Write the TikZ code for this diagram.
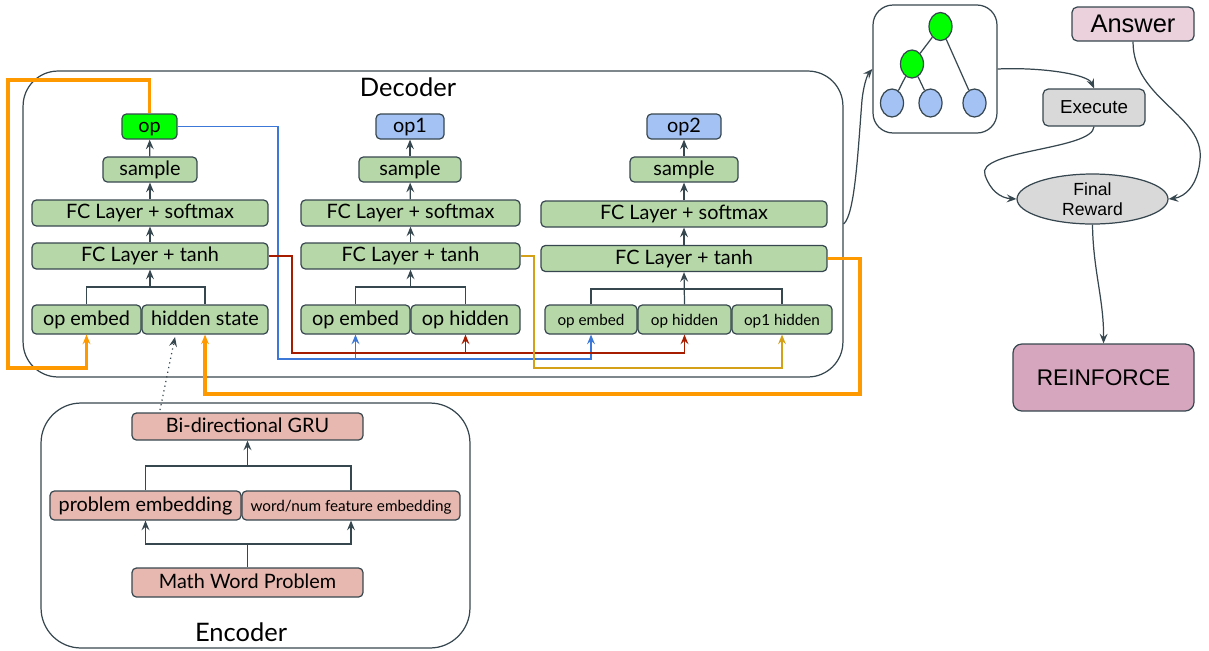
\documentclass[tikz,border=0pt]{standalone}
\usepackage{fontspec}
\setmainfont{Lato}
\newfontfamily\arialfont{Liberation Sans}
\usetikzlibrary{shapes.geometric,arrows.meta}
\definecolor{edgec}{HTML}{37474F}
\definecolor{boxgreen}{HTML}{B6D7A8}
\definecolor{opgreen}{HTML}{00FF00}
\definecolor{opblue}{HTML}{A4C2F4}
\definecolor{boxpink}{HTML}{E6B8AF}
\definecolor{ansfill}{HTML}{EAD1DC}
\definecolor{rlfill}{HTML}{D5A6BD}
\definecolor{greyfill}{HTML}{D9D9D9}
\definecolor{orangec}{HTML}{FF9900}
\definecolor{bluec}{HTML}{3C78D8}
\definecolor{redc}{HTML}{A61C00}
\definecolor{goldc}{HTML}{D4A017}

\begin{document}
\begin{tikzpicture}[x=0.02cm, y=-0.02cm, >={Stealth[length=5.5pt, width=4.5pt, inset=2pt]},
    gbox/.style={draw=edgec, fill=boxgreen, rounded corners=2.5pt, line width=0.7pt, inner sep=0pt, minimum height=0.5cm, text height=1.6ex, text depth=0.35ex, font=\fontsize{11.3}{13}\selectfont},
    sbox/.style={gbox, minimum height=0.58cm, font=\fontsize{8.7}{10}\selectfont},
    ebox/.style={gbox, fill=boxpink, minimum height=0.58cm},
    frame/.style={draw=edgec, line width=0.7pt, rounded corners=0.7cm, inner sep=0pt},
    link/.style={draw=edgec, line width=0.7pt},
    treenode/.style={ellipse, draw=edgec, line width=0.7pt, minimum width=0.46cm, minimum height=0.56cm, inner sep=0pt},
    rlbox/.style={draw=edgec, line width=0.7pt, rounded corners=3pt, inner sep=0pt, font=\arialfont},
    orline/.style={draw=orangec, line width=1.8pt, ->},
    thin/.style={line width=0.8pt, ->}]
        \useasboundingbox (0,0) rectangle (1209,650);

        % Frames
        \node[frame, minimum width=16.4cm, minimum height=6.12cm] (dec) at (433,224) {};
        \node[font=\fontsize{14.5}{16}\selectfont] (decl) at (408,87) {Decoder};
        \node[frame, rounded corners=0.8cm, minimum width=8.58cm, minimum height=4.9cm] (enc) at (255.5,525.5) {};
        \node[font=\fontsize{14.5}{16}\selectfont] (encl) at (241,632) {Encoder};
        \node[frame, rounded corners=0.4cm, minimum width=2.48cm, minimum height=2.56cm] (tree) at (935,69) {};

        % Decoder step 1
        \node[gbox, fill=opgreen, minimum width=1.1cm] (O1) at (149.5,126.5) {op};
        \node[gbox, minimum width=1.88cm] (S1) at (150,169.5) {sample};
        \node[gbox, minimum width=4.72cm, minimum height=0.52cm] (M1) at (150,213) {FC Layer + softmax};
        \node[gbox, minimum width=4.72cm, minimum height=0.52cm] (T1) at (150,256) {FC Layer + tanh};
        \node[gbox, minimum width=2.18cm, minimum height=0.58cm] (E1) at (86.5,319.5) {op embed};
        \node[gbox, minimum width=2.52cm, minimum height=0.58cm] (H1) at (205,319.5) {hidden state};

        % Decoder step 2
        \node[gbox, fill=opblue, minimum width=1.36cm] (O2) at (410,126.5) {op1};
        \node[gbox, minimum width=2.04cm] (S2) at (410,169.5) {sample};
        \node[gbox, minimum width=4.38cm, minimum height=0.52cm] (M2) at (410.5,213) {FC Layer + softmax};
        \node[gbox, minimum width=4.38cm, minimum height=0.52cm] (T2) at (410.5,256) {FC Layer + tanh};
        \node[gbox, minimum width=2.18cm, minimum height=0.58cm] (E2) at (355.5,319.5) {op embed};
        \node[gbox, minimum width=2.18cm, minimum height=0.58cm] (H2) at (465.5,319.5) {op hidden};

        % Decoder step 3
        \node[gbox, fill=opblue, minimum width=1.48cm] (O3) at (684,126.5) {op2};
        \node[gbox, minimum width=2.16cm] (S3) at (684,169.5) {sample};
        \node[gbox, minimum width=5.72cm, minimum height=0.52cm] (M3) at (684,214) {FC Layer + softmax};
        \node[gbox, minimum width=5.72cm, minimum height=0.52cm] (T3) at (684,258.5) {FC Layer + tanh};
        \node[sbox, minimum width=1.84cm] (E3) at (591,319.5) {op embed};
        \node[sbox, minimum width=1.86cm] (H3) at (684.5,319.5) {op hidden};
        \node[sbox, minimum width=2.0cm] (P3) at (782,319.5) {op1 hidden};

        % Encoder
        \node[ebox, minimum width=4.62cm, minimum height=0.54cm] (G) at (247.5,426.5) {Bi-directional GRU};
        \node[ebox, minimum width=3.82cm] (PE) at (145.5,505.5) {problem embedding};
        \node[ebox, minimum width=4.36cm, font=\fontsize{8.7}{10}\selectfont] (WE) at (351,505.5) {word/num feature embedding};
        \node[ebox, minimum width=4.62cm] (MW) at (247.5,582.5) {Math Word Problem};

        % Tree
        \node[treenode, fill=opgreen] (R1) at (940.5,26.5) {};
        \node[treenode, fill=opgreen] (R2) at (912,64) {};
        \node[treenode, fill=opblue] (L1) at (892,103) {};
        \node[treenode, fill=opblue] (L2) at (930.5,103) {};
        \node[treenode, fill=opblue] (L3) at (974.5,103) {};

        % Reward side
        \node[rlbox, fill=ansfill, minimum width=2.44cm, minimum height=0.68cm, font=\arialfont\fontsize{14.5}{16}\selectfont] (A) at (1133,24) {Answer};
        \node[rlbox, fill=greyfill, minimum width=2.04cm, minimum height=0.74cm, font=\arialfont\fontsize{10.7}{12}\selectfont] (X) at (1094,107.5) {Execute};
        \node[ellipse, draw=edgec, line width=0.7pt, fill=greyfill, minimum width=3.02cm, minimum height=1.0cm, inner sep=0pt, align=center, font=\arialfont\fontsize{10}{11.5}\selectfont] (FR) at (1092.5,199) {Final\\Reward};
        \node[rlbox, fill=rlfill, minimum width=3.62cm, minimum height=1.34cm, rounded corners=5pt, font=\arialfont\fontsize{12.9}{14}\selectfont] (RL) at (1103.5,377.5) {REINFORCE};

        % Junctions
        \coordinate (j1) at (150,287);
        \coordinate (j2) at (410.5,287);
        \coordinate (j3) at (684.5,289);
        \coordinate (ju) at (247.5,466);
        \coordinate (jd) at (247.5,544);
        \coordinate (bl) at (278,359);
        \coordinate (rd) at (292,353);
        \coordinate (gd) at (534,368);
        \coordinate (g1) at (160,410);
        \coordinate (h1) at (175,337);

        % Draw edges
        \foreach \i in {1,2,3} {
            \draw[link, ->] (S\i) -- (O\i);
            \draw[link, ->] (M\i) -- (S\i);
            \draw[link, ->] (T\i) -- (M\i);
        }
        \draw[link] (E1.north) |- (j1) -| (H1.north);
        \draw[link, ->] (j1) -- (T1.south);
        \draw[link] (E2.north) |- (j2) -| (H2.north);
        \draw[link, ->] (j2) -- (T2.south);
        \draw[link] (E3.north) |- (j3) -| (P3.north);
        \draw[link, ->] (H3.north) -- (T3.south);

        \draw[link] (PE.north) |- (ju) -| (WE.north);
        \draw[link, ->] (ju) -- (G.south);
        \draw[link] (MW.north) -- (jd);
        \draw[link, ->] (jd) -| (PE.south);
        \draw[link, ->] (jd) -| (WE.south);
        \draw[link, dotted, ->] (g1) -- (h1);

        % Feedback lines
        \draw[bluec, thin] (O1.east) -| (bl) -| (E3.south);
        \draw[bluec, thin] (E2.south |- bl) -- (E2.south);
        \draw[redc, thin] (T1.east) -| (rd) -| (H3.south);
        \draw[redc, thin] (H2.south |- rd) -- (H2.south);
        \draw[goldc, thin] (T2.east) -| (gd) -| (P3.south);
        \draw[orline] (O1.north) |- (8,80) -- (8,368) -| (E1.south);
        \draw[orline] (T3.east) -| (860,394) -| (H1.south);

        % Tree edges
        \draw[link] (R1) -- (R2);
        \draw[link] (R1) -- (L3);
        \draw[link] (R2) -- (L1);
        \draw[link] (R2) -- (L2);

        % Reward edges
        \draw[link, ->] (dec.east) .. controls (855,215) and (858,150) .. (862,100) .. controls (864,82) and (868,74) .. (tree.west);
        \draw[link, ->] (tree.east) .. controls (1040,67) and (1088,74) .. (X.north);
        \draw[link, ->] (X.south) .. controls (1093,150) and (975,150) .. (985,175) .. controls (990,190) and (1000,198) .. (FR.west);
        \draw[link, ->] (A.south) .. controls (1133,100) and (1205,115) .. (1200,160) .. controls (1198,185) and (1185,197) .. (FR.east);
        \draw[link, ->] (FR.south) .. controls (1093,270) and (1104,300) .. (RL.north);
    \end{tikzpicture}
\end{document}
